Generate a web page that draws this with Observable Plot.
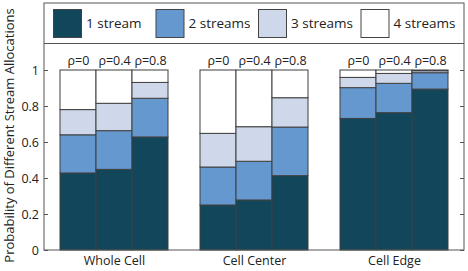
<!DOCTYPE html>
<html><head><meta charset="utf-8">
<script src="https://cdn.jsdelivr.net/npm/d3@7"></script>
<script src="https://cdn.jsdelivr.net/npm/@observablehq/plot@0.6"></script>
<style>body{margin:0;background:#fff} svg{display:block}</style>
</head><body><div id="chart"></div>
<script>
const groups = ["Whole Cell", "Cell Center", "Cell Edge"];
const rhos = ["ρ=0", "ρ=0.4", "ρ=0.8"];
const seriesNames = ["1 stream", "2 streams", "3 streams", "4 streams"];
// probability of each allocation, bars ordered group by group, rho within group
const stream1 = [0.428, 0.448, 0.628, 0.250, 0.278, 0.413, 0.731, 0.763, 0.894];
const stream2 = [0.212, 0.215, 0.215, 0.211, 0.215, 0.270, 0.171, 0.163, 0.091];
const stream3 = [0.140, 0.152, 0.088, 0.187, 0.192, 0.163, 0.057, 0.055, 0.011];
const stream4 = [0.220, 0.185, 0.069, 0.352, 0.315, 0.154, 0.041, 0.019, 0.004];
const yTicks = [0, 0.2, 0.4, 0.6, 0.8, 1];
const yTickLabels = ["0", "0.2", "0.4", "0.6", "0.8", "1"];
const yTitle = "Probability of Different Stream Allocations";
const colors = ["#12465a", "#6598cf", "#cfd8ea", "#ffffff"];

const seriesValues = [stream1, stream2, stream3, stream4];
const rows = [];
const tops = [];
groups.forEach((g, gi) => rhos.forEach((r, ri) => {
  const k = gi * 3 + ri;
  let total = 0;
  seriesNames.forEach((s, si) => { rows.push({group: g, rho: r, series: s, value: seriesValues[si][k]}); total += seriesValues[si][k]; });
  tops.push({group: g, rho: r, total});
}));

const FONT = "'Open Sans', sans-serif";
const chart = Plot.plot({
  width: 468, height: 271,
  marginLeft: 44, marginRight: 4, marginTop: 3, marginBottom: 21,
  style: {fontFamily: FONT, fontSize: "12.5px", background: "#fff", color: "#222"},
  fx: {domain: groups, paddingInner: 30 / 140, paddingOuter: 15 / 140, label: null, axis: "bottom", tickSize: 0, tickPadding: 6},
  x: {domain: rhos, padding: 0, axis: null},
  y: {domain: [0, 247 / 180], axis: null},
  color: {domain: seriesNames, range: colors},
  marks: [
    Plot.barY(rows, {fx: "group", x: "rho", y: "value", fill: "series", stroke: "#3f3f3f", strokeWidth: 1, order: seriesNames}),
    Plot.text(tops, {fx: "group", x: "rho", y: "total", text: "rho", dy: -10, fontSize: 12.5, fill: "#222"})
  ]
});
document.getElementById("chart").appendChild(chart);

const svg = d3.select(chart);
const y = chart.scale("y");
const L = 44, R = 464, T = 3, B = 250;
const deco = svg.append("g");
// axes frame
deco.append("rect").attr("x", L).attr("y", T).attr("width", R - L).attr("height", B - T)
  .attr("fill", "none").attr("stroke", "#555").attr("stroke-width", 1);
// inward ticks and labels
yTicks.forEach((t, i) => {
  const py = Math.round(y.apply(t)) + 0.5;
  deco.append("line").attr("x1", L).attr("x2", L + 4).attr("y1", py).attr("y2", py).attr("stroke", "#555");
  deco.append("line").attr("x1", R - 4).attr("x2", R).attr("y1", py).attr("y2", py).attr("stroke", "#555");
  deco.append("text").attr("x", L - 5).attr("y", py).attr("dy", "0.35em").attr("text-anchor", "end")
    .attr("font-family", FONT).attr("font-size", 12.5).attr("fill", "#222").text(yTickLabels[i]);
});
// y title
deco.append("text").attr("transform", `translate(14,${(T + 268) / 2}) rotate(-90)`).attr("text-anchor", "middle")
  .attr("font-family", FONT).attr("font-size", 13).attr("fill", "#222").text(yTitle);
// legend box
deco.append("line").attr("x1", L).attr("x2", R).attr("y1", 43.5).attr("y2", 43.5).attr("stroke", "#555");
const lx = [53, 155.5, 258, 360.5];
seriesNames.forEach((s, i) => {
  deco.append("rect").attr("x", lx[i] + 0.5).attr("y", 9.5).attr("width", 28).attr("height", 28)
    .attr("fill", colors[i]).attr("stroke", "#444");
  deco.append("text").attr("x", lx[i] + 33).attr("y", 23.5).attr("dy", "0.35em").attr("text-anchor", "start")
    .attr("font-family", FONT).attr("font-size", 13.5).attr("fill", "#222").text(s);
});
</script></body></html>
